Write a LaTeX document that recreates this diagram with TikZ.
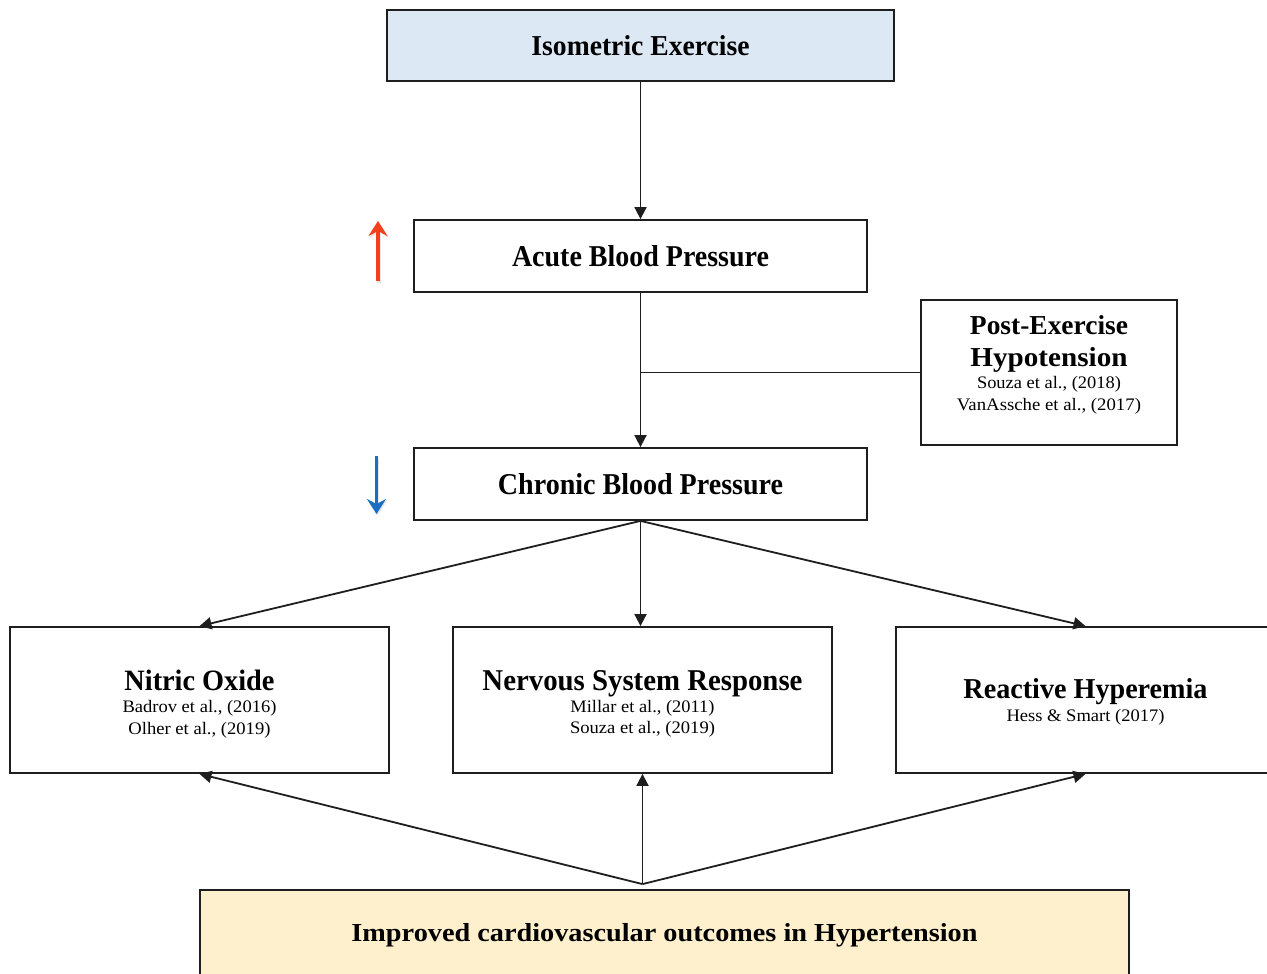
\documentclass[tikz,border=0pt]{standalone}
\usepackage{fontspec}
\setmainfont{Liberation Serif}
\usepackage{graphicx}
\usetikzlibrary{arrows.meta}
\definecolor{isoblue}{HTML}{DDE8F5}
\definecolor{outyellow}{HTML}{FEF0CC}
\definecolor{upred}{HTML}{F5401E}
\definecolor{downblue}{HTML}{1B6EC2}
\definecolor{linegray}{HTML}{1E1E1E}
\newcommand{\fitln}[3]{\resizebox{#1pt}{#2pt}{#3}}
\begin{document}
\begin{tikzpicture}[x=1pt,y=-1pt,
  box/.style={draw=linegray, line width=1.8pt, rectangle, inner sep=0pt, align=center,
              font=\fontsize{10}{21.5}\selectfont},
  conn/.style={draw=linegray, line width=1.8pt},
  arr/.style={conn, -{Triangle[length=12pt,width=12pt]}},
  trend/.style={line width=3.5pt, -{Stealth[length=15pt,width=19pt,inset=5pt]}},
]
\useasboundingbox (0,0) rectangle (1267,974);
\clip (0,0) rectangle (1267,974);
\fill[white] (0,0) rectangle (1267,974);

\node[box, fill=isoblue, minimum width=507pt, minimum height=71pt] (iso) at (640.5,45.5)
  {\fitln{218}{20}{\bfseries Isometric Exercise}};
\node[box, minimum width=453pt, minimum height=72pt] (acute) at (640.5,256)
  {\fitln{257}{21}{\bfseries Acute Blood Pressure}\rule[-1pt]{0pt}{1pt}};
\node[box, minimum width=256pt, minimum height=145pt] (peh) at (1049,372.5)
  {\fitln{158}{19}{\bfseries Post-Exercise}\\[10pt]
   \fitln{157}{19}{\bfseries Hypotension}\\[1pt]
   \fitln{144}{12.2}{Souza et al., (2018)}\\[0pt]
   \fitln{184}{12.2}{VanAssche et al., (2017)}\rule[-19.5pt]{0pt}{19.5pt}};
\node[box, minimum width=453pt, minimum height=72pt] (chronic) at (640.5,484)
  {\fitln{285}{21}{\bfseries Chronic Blood Pressure}\rule[-1pt]{0pt}{1pt}};

\node[box, minimum width=379pt, minimum height=146pt] (no) at (199.5,700)
  {\rule{0pt}{28.5pt}\fitln{150}{20.5}{\bfseries Nitric Oxide}\\[0.5pt]
   \fitln{154}{12.2}{Badrov et al., (2016)}\\[0pt]
   \fitln{142}{12.2}{Olher et al., (2019)}};
\node[box, minimum width=379pt, minimum height=146pt] (nsr) at (642.5,700)
  {\rule{0pt}{28pt}\fitln{320}{20}{\bfseries Nervous System Response}\\[0.5pt]
   \fitln{144}{12.2}{Millar et al., (2011)}\\[0pt]
   \fitln{145}{12.2}{Souza et al., (2019)}};
\node[box, minimum width=379pt, minimum height=146pt] (rh) at (1085.5,700)
  {\rule{0pt}{24pt}\fitln{244}{20}{\bfseries Reactive Hyperemia}\\[2pt]
   \fitln{158}{12.2}{Hess \& Smart (2017)}};

\node[box, fill=outyellow, minimum width=929pt, minimum height=90pt] (out) at (664.5,935)
  {\fitln{626}{18}{\bfseries Improved cardiovascular outcomes in Hypertension}};

% connectors
\draw[arr] (iso.south) -- (acute.north);
\draw[arr] (acute.south) -- (chronic.north);
\coordinate (join) at (acute.south |- peh.west);
\draw[conn] (peh.west) -- (join);
\draw[arr] (chronic.south) -- (no.north);
\draw[arr] (chronic.south) -- (chronic.south |- nsr.north);
\draw[arr] (chronic.south) -- (rh.north);
\coordinate (hub) at ([yshift=5pt]nsr.south |- out.north);
\draw[arr] (hub) -- (no.south);
\draw[arr] (hub) -- (hub |- nsr.south);
\draw[arr] (hub) -- (rh.south);

% trend arrows
\coordinate (upS) at (378,281);
\coordinate (upE) at (378,221);
\coordinate (dnS) at (376.5,456);
\coordinate (dnE) at (376.5,514);
\draw[trend, black!10] ([shift={(1,1.5)}]upS) -- ([shift={(1,1.5)}]upE);
\draw[trend, upred] (upS) -- (upE);
\draw[trend, black!10] ([shift={(1,1.5)}]dnS) -- ([shift={(1,1.5)}]dnE);
\draw[trend, downblue] (dnS) -- (dnE);
\end{tikzpicture}
\end{document}
